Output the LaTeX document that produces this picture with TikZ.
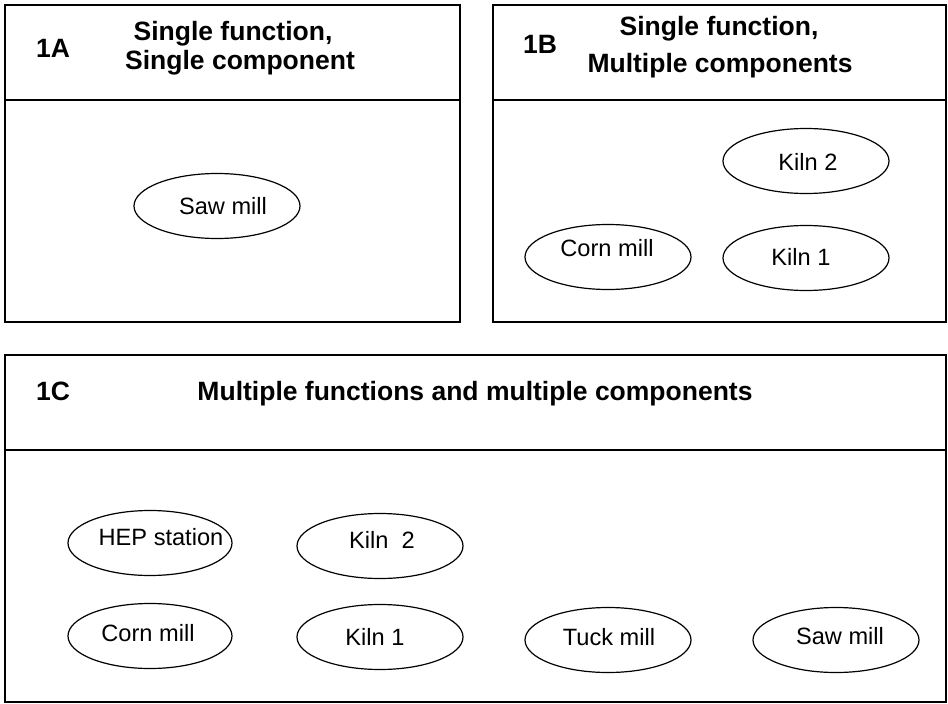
\documentclass[tikz,border=0pt]{standalone}
\usepackage{fontspec}
\setmainfont{Liberation Sans}
\usetikzlibrary{shapes.geometric}
\begin{document}
\begin{tikzpicture}[x=1pt,y=-1pt,
 panel/.style={draw, line width=1.7pt},
 oval/.style={draw, ellipse, line width=1.2pt, minimum width=166pt, minimum height=65pt, inner sep=0pt},
 lbl/.style={font=\fontsize{23.6}{26}\selectfont, inner sep=0pt, anchor=center},
 ttl/.style={font=\bfseries\fontsize{26.5}{30}\selectfont, inner sep=0pt, anchor=base},
]
\useasboundingbox (0,0) rectangle (948,704);
% panels
\draw[panel] (5,5) rectangle (460,322);
\draw[panel] (5,100) -- (460,100);
\draw[panel] (493,5) rectangle (946,322);
\draw[panel] (493,100) -- (946,100);
\draw[panel] (5,355) rectangle (946,702);
\draw[panel] (5,450) -- (946,450);
% titles
\node[ttl] (tA) at (53,57) {1A};
\node[ttl] (tA1) at (233,40.5) {Single function,};
\node[ttl] (tA2) at (240,69) {Single component};
\node[ttl] (tB) at (540,53) {1B};
\node[ttl] (tB1) at (719,35) {Single function,};
\node[ttl] (tB2) at (720,72) {Multiple components};
\node[ttl] (tC) at (53,400) {1C};
\node[ttl] (tC1) at (475,400) {Multiple functions and multiple components};
% 1A
\node[oval] (sawA) at (217,206) {};
\node[lbl] (sawAt) at (223,206) {Saw mill};
% 1B
\node[oval] (kiln2B) at (806,161) {};
\node[lbl] (kiln2Bt) at (808,162) {Kiln 2};
\node[oval] (cornB) at (608,257) {};
\node[lbl] (cornBt) at (607,248) {Corn mill};
\node[oval] (kiln1B) at (806,258) {};
\node[lbl] (kiln1Bt) at (801,257) {Kiln 1};
% 1C
\node[oval, minimum width=164pt] (hep) at (150,543) {};
\node[lbl] (hept) at (161,537) {HEP station};
\node[oval] (kiln2C) at (380,546) {};
\node[lbl] (kiln2Ct) at (382,540) {Kiln\ \ 2};
\node[oval, minimum width=164pt] (cornC) at (150,636) {};
\node[lbl] (cornCt) at (148,633) {Corn mill};
\node[oval] (kiln1C) at (380,637) {};
\node[lbl] (kiln1Ct) at (375,637) {Kiln 1};
\node[oval] (tuck) at (608,640) {};
\node[lbl] (tuckt) at (609,637) {Tuck mill};
\node[oval] (sawC) at (836,640) {};
\node[lbl] (sawCt) at (840,636) {Saw mill};
\end{tikzpicture}
\end{document}
